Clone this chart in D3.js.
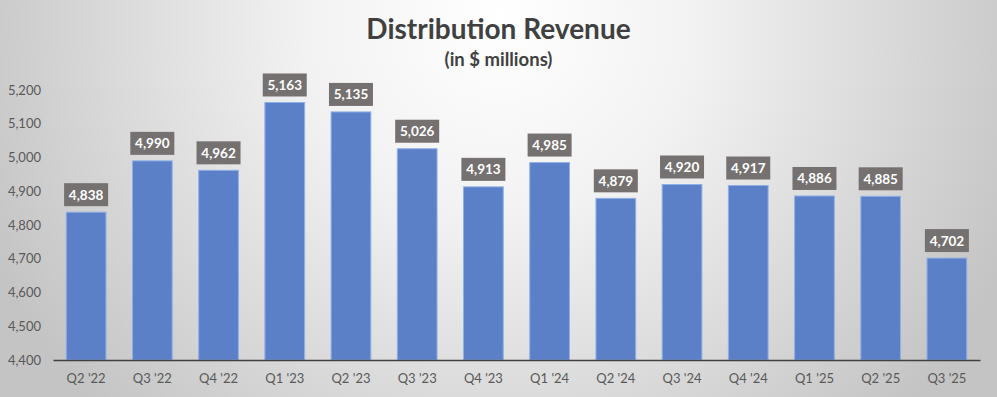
<!DOCTYPE html>
<html>
<head>
<meta charset="utf-8">
<script src="https://cdn.jsdelivr.net/npm/d3@7"></script>
<style>
  html, body { margin: 0; padding: 0; }
  body { width: 997px; height: 397px; overflow: hidden; }
  text { font-family: Lato, "Open Sans", sans-serif; }
</style>
</head>
<body>
<div id="chart"></div>
<script>
// chart data
const quarters = ["Q2 '22", "Q3 '22", "Q4 '22", "Q1 '23", "Q2 '23", "Q3 '23", "Q4 '23",
  "Q1 '24", "Q2 '24", "Q3 '24", "Q4 '24", "Q1 '25", "Q2 '25", "Q3 '25"];
const revenue = [4838, 4990, 4962, 5163, 5135, 5026, 4913, 4985, 4879, 4920, 4917, 4886, 4885, 4702];
const yTicks = [4400, 4500, 4600, 4700, 4800, 4900, 5000, 5100, 5200];

const W = 997, H = 397;
const margin = { top: 90, right: 17, bottom: 37, left: 53 };

const svg = d3.select("#chart")
  .append("svg")
  .attr("width", W)
  .attr("height", H);

// background gradient
const defs = svg.append("defs");
const grad = defs.append("radialGradient")
  .attr("id", "bg")
  .attr("gradientUnits", "userSpaceOnUse")
  .attr("cx", 500).attr("cy", 20)
  .attr("r", 560);
grad.append("stop").attr("offset", "0%").attr("stop-color", "#ffffff");
grad.append("stop").attr("offset", "35%").attr("stop-color", "#f2f2f2");
grad.append("stop").attr("offset", "100%").attr("stop-color", "#c4c4c4");

svg.append("rect")
  .attr("width", W).attr("height", H)
  .attr("fill", "url(#bg)");

// scales
const x = d3.scaleBand()
  .domain(quarters)
  .range([margin.left, W - margin.right])
  .paddingInner(0.4)
  .paddingOuter(0.2);

const y = d3.scaleLinear()
  .domain([4400, 5200])
  .range([H - margin.bottom, margin.top]);

// titles
svg.append("text")
  .attr("x", W / 2).attr("y", 39)
  .attr("text-anchor", "middle")
  .attr("font-size", 28).attr("font-weight", "bold")
  .attr("fill", "#404040")
  .text("Distribution Revenue");

svg.append("text")
  .attr("x", W / 2).attr("y", 66)
  .attr("text-anchor", "middle")
  .attr("font-size", 18.5).attr("font-weight", "bold")
  .attr("fill", "#404040")
  .text("(in $ millions)");

// y axis labels
const yAxis = svg.append("g")
  .attr("transform", `translate(${margin.left - 12},0)`)
  .call(d3.axisLeft(y).tickValues(yTicks).tickFormat(d3.format(",")).tickSize(0).tickPadding(0));
yAxis.select(".domain").remove();
yAxis.selectAll("text")
  .attr("font-size", 13)
  .attr("fill", "#595959");

// bars
svg.append("g")
  .selectAll("rect")
  .data(revenue)
  .join("rect")
  .attr("x", (d, i) => x(quarters[i]))
  .attr("y", d => y(d))
  .attr("width", x.bandwidth())
  .attr("height", d => y(4400) - y(d))
  .attr("fill", "#5b80c8")
  .attr("stroke", "#8fb0e6")
  .attr("stroke-width", 1);

// x axis
const xAxis = svg.append("g")
  .attr("transform", `translate(0,${H - margin.bottom})`)
  .call(d3.axisBottom(x).tickSize(0).tickPadding(14));
xAxis.select(".domain")
  .attr("stroke", "#404040")
  .attr("stroke-width", 1.5);
xAxis.selectAll("text")
  .attr("font-size", 13)
  .attr("fill", "#595959");

// value labels
const labels = svg.append("g")
  .selectAll("g")
  .data(revenue)
  .join("g")
  .attr("transform", (d, i) => `translate(${x(quarters[i]) + x.bandwidth() / 2},${y(d) - 6})`);

labels.append("rect")
  .attr("x", -22).attr("y", -23)
  .attr("width", 44).attr("height", 23)
  .attr("fill", "#757170");

labels.append("text")
  .attr("y", -6.5)
  .attr("text-anchor", "middle")
  .attr("font-size", 13.5).attr("font-weight", "bold")
  .attr("fill", "#ffffff")
  .text(d => d3.format(",")(d));
</script>
</body>
</html>
